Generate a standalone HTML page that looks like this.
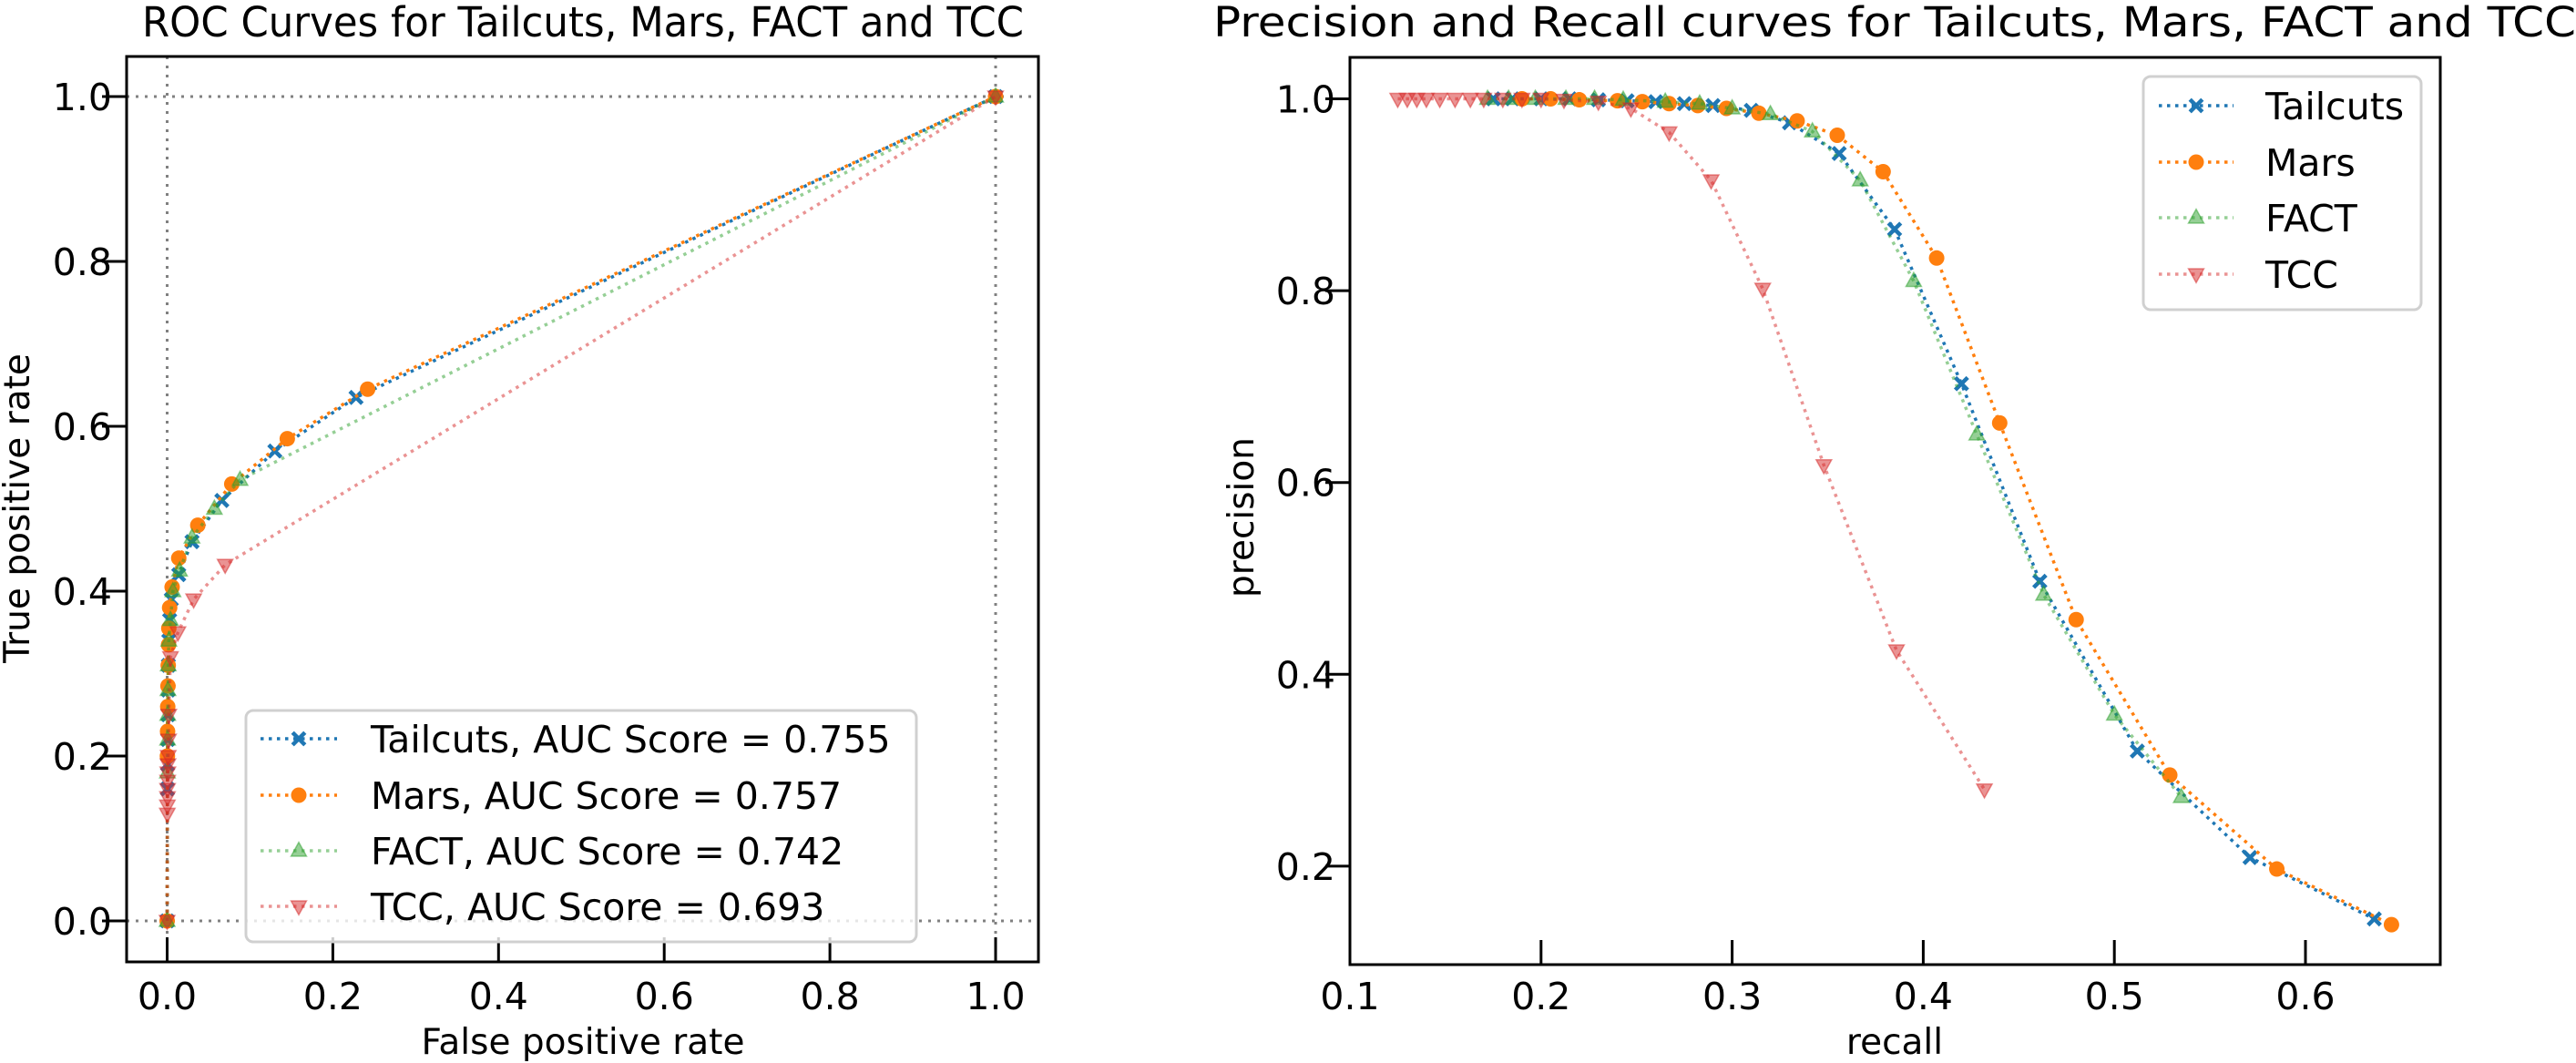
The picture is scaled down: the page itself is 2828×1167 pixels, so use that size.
<!DOCTYPE html>
<html><head><meta charset="utf-8"><style>
html,body{margin:0;padding:0;background:#fff;}
svg{display:block;font-family:"DejaVu Sans","Liberation Sans",sans-serif;}
</style></head><body>
<svg id="c" width="2828" height="1167" viewBox="0 0 2828 1167"></svg>
<script>
// ROC data
const rocTailFpr=[0,0.0003,0.0005,0.0007,0.001,0.0012,0.0015,0.002,0.003,0.005,0.014,0.03,0.066,0.13,0.228,1];
const rocTailTpr=[0,0.16,0.19,0.22,0.25,0.28,0.31,0.34,0.365,0.39,0.42,0.46,0.51,0.57,0.635,1];
const rocMarsFpr=[0,0.0003,0.0005,0.0007,0.001,0.0013,0.0017,0.002,0.003,0.006,0.014,0.037,0.078,0.145,0.242,1];
const rocMarsTpr=[0,0.2,0.23,0.26,0.285,0.31,0.335,0.355,0.38,0.405,0.44,0.48,0.53,0.585,0.645,1];
const rocFactFpr=[0,0.0003,0.0005,0.0007,0.001,0.0013,0.002,0.004,0.007,0.015,0.03,0.057,0.088,1];
const rocFactTpr=[0,0.18,0.22,0.25,0.28,0.31,0.34,0.365,0.40,0.425,0.465,0.50,0.535,1];
const rocTccFpr=[0,0.0002,0.0003,0.0004,0.0005,0.0006,0.0008,0.001,0.0013,0.0017,0.002,0.004,0.013,0.032,0.07,1];
const rocTccTpr=[0,0.13,0.14,0.15,0.16,0.17,0.18,0.19,0.2,0.22,0.25,0.32,0.35,0.39,0.432,1];
const rocTicks=[0,0.2,0.4,0.6,0.8,1.0];
const rocTickLabels=["0.0","0.2","0.4","0.6","0.8","1.0"];
const rocLegend=["Tailcuts, AUC Score = 0.755","Mars, AUC Score = 0.757","FACT, AUC Score = 0.742","TCC, AUC Score = 0.693"];
// PR data
const prTailRec=[0.175,0.185,0.2,0.215,0.23,0.245,0.26,0.275,0.29,0.31,0.33,0.356,0.385,0.42,0.461,0.512,0.571,0.636];
const prTailPrec=[1,1,1,1,0.999,0.998,0.997,0.995,0.993,0.988,0.975,0.943,0.864,0.703,0.497,0.32,0.209,0.145];
const prMarsRec=[0.19,0.205,0.22,0.24,0.253,0.267,0.282,0.297,0.314,0.334,0.355,0.379,0.407,0.44,0.48,0.529,0.585,0.645];
const prMarsPrec=[1,1,0.999,0.998,0.997,0.995,0.993,0.99,0.985,0.977,0.962,0.924,0.834,0.662,0.457,0.295,0.197,0.139];
const prFactRec=[0.172,0.183,0.197,0.213,0.228,0.243,0.265,0.283,0.3,0.32,0.342,0.367,0.395,0.428,0.463,0.5,0.535];
const prFactPrec=[1,1,1,1,1,0.999,0.997,0.995,0.99,0.984,0.966,0.915,0.81,0.65,0.483,0.358,0.272];
const prTccRec=[0.125,0.13,0.135,0.14,0.147,0.155,0.163,0.17,0.18,0.19,0.2,0.212,0.23,0.247,0.267,0.289,0.316,0.348,0.386,0.432];
const prTccPrec=[1,1,1,1,1,1,1,1,1,1,1,0.999,0.997,0.99,0.965,0.915,0.802,0.618,0.425,0.28];
const prXTicks=[0.1,0.2,0.3,0.4,0.5,0.6];
const prXLabels=["0.1","0.2","0.3","0.4","0.5","0.6"];
const prYTicks=[0.2,0.4,0.6,0.8,1.0];
const prYLabels=["0.2","0.4","0.6","0.8","1.0"];
const prLegend=["Tailcuts","Mars","FACT","TCC"];

const NS="http://www.w3.org/2000/svg";
const svg=document.getElementById('c');
function el(tag,attrs,parent,text){const e=document.createElementNS(NS,tag);for(const k in attrs)e.setAttribute(k,attrs[k]);if(text!==undefined)e.textContent=text;(parent||svg).appendChild(e);return e;}
const colors=["#1f77b4","#ff7f0e","#2ca02c","#d62728"];
const alphas=[1,1,0.5,0.5];
const kinds=["x","o","^","v"];
const TF=41;
function marker(g,kind,x,y,c,a){
  const r=8.5;let m;
  if(kind==="x"){m=el('path',{d:`M${x-r*0.8},${y-r*0.8}L${x+r*0.8},${y+r*0.8}M${x-r*0.8},${y+r*0.8}L${x+r*0.8},${y-r*0.8}`,stroke:c,'stroke-width':4.5,'stroke-opacity':a},g);}
  else if(kind==="o"){m=el('circle',{cx:x,cy:y,r:r,fill:c,'fill-opacity':a},g);}
  else if(kind==="^"){m=el('path',{d:`M${x},${y-r*1.1}L${x+r},${y+r*0.7}L${x-r},${y+r*0.7}Z`,fill:c,'fill-opacity':a,stroke:c,'stroke-opacity':a,'stroke-width':1.5},g);}
  else {m=el('path',{d:`M${x},${y+r*1.1}L${x+r},${y-r*0.7}L${x-r},${y-r*0.7}Z`,fill:c,'fill-opacity':a,stroke:c,'stroke-opacity':a,'stroke-width':1.5},g);}
  
  
}
function series(g,xs,ys,X,Y,i,name){
  const sg=el('g',{},g);
  
  
  const pts=xs.map((v,k)=>X(v)+','+Y(ys[k])).join(' ');
  const ln=el('polyline',{points:pts,fill:'none',stroke:colors[i],'stroke-opacity':alphas[i],'stroke-width':3.5,'stroke-dasharray':'3.5,5.5'},sg);
  
  
  xs.forEach((v,k)=>marker(sg,kinds[i],X(v),Y(ys[k]),colors[i],alphas[i]));
}

// ---------- ROC ----------
(function(){
  const L=139,R=1140,T=62,B=1056;
  const X=v=>183.5+v*909.5, Y=v=>1011-v*905;
  const g=el('g',{});  
  const t=el('text',{x:640,y:40,'text-anchor':'middle','font-size':45,textLength:968,lengthAdjust:'spacingAndGlyphs'},g,'ROC Curves for Tailcuts, Mars, FACT and TCC');
   
  [[X(0),T,X(0),B],[X(1),T,X(1),B],[L,Y(0),R,Y(0)],[L,Y(1),R,Y(1)]].forEach(p=>{
    const l=el('line',{x1:p[0],y1:p[1],x2:p[2],y2:p[3],stroke:'#808080','stroke-width':3,'stroke-dasharray':'3,7'},g);
     });
  series(g,rocTailFpr,rocTailTpr,X,Y,0,'tailcuts-roc');
  series(g,rocMarsFpr,rocMarsTpr,X,Y,1,'mars-roc');
  series(g,rocFactFpr,rocFactTpr,X,Y,2,'fact-roc');
  series(g,rocTccFpr,rocTccTpr,X,Y,3,'tcc-roc');
  const fr=el('rect',{x:L,y:T,width:R-L,height:B-T,fill:'none',stroke:'#000','stroke-width':3},g);
   
  rocTicks.forEach((v,k)=>{
    const a=el('line',{x1:X(v),y1:B,x2:X(v),y2:B-27,stroke:'#000','stroke-width':3},g);
     
    const tl=el('text',{x:X(v),y:1108,'text-anchor':'middle','font-size':TF},g,rocTickLabels[k]);
     
    const b=el('line',{x1:L,y1:Y(v),x2:L-27,y2:Y(v),stroke:'#000','stroke-width':3},g);
     
    const yl=el('text',{x:123,y:Y(v)+15,'text-anchor':'end','font-size':TF},g,rocTickLabels[k]);
     
  });
  const xl=el('text',{x:640,y:1157,'text-anchor':'middle','font-size':39},g,'False positive rate');
   
  const yl=el('text',{x:0,y:0,'text-anchor':'middle','font-size':39,transform:'translate(32,558) rotate(-90)'},g,'True positive rate');
   
  const lg=el('g',{},g);  
  el('rect',{x:270,y:780,width:736,height:254,rx:8,fill:'#fff','fill-opacity':0.8,stroke:'#d0d0d0','stroke-width':3},lg);
  const ys=[811,873,934,995];
  rocLegend.forEach((s,i)=>{
    const e=el('g',{},lg);  
    el('line',{x1:286,y1:ys[i],x2:370,y2:ys[i],stroke:colors[i],'stroke-opacity':alphas[i],'stroke-width':3.5,'stroke-dasharray':'3.5,5.5'},e);
    marker(e,kinds[i],328,ys[i],colors[i],alphas[i]);
    el('text',{x:407,y:ys[i]+15,'font-size':TF},e,s);
  });
})();

// ---------- PR ----------
(function(){
  const L=1482,R=2679,T=63,B=1059;
  const X=v=>1482+(v-0.1)*2098, Y=v=>108.5+(1-v)*1053;
  const g=el('g',{});  
  const t=el('text',{x:2080,y:40,'text-anchor':'middle','font-size':45,textLength:1496,lengthAdjust:'spacingAndGlyphs'},g,'Precision and Recall curves for Tailcuts, Mars, FACT and TCC');
   
  series(g,prTailRec,prTailPrec,X,Y,0,'tailcuts-pr');
  series(g,prMarsRec,prMarsPrec,X,Y,1,'mars-pr');
  series(g,prFactRec,prFactPrec,X,Y,2,'fact-pr');
  series(g,prTccRec,prTccPrec,X,Y,3,'tcc-pr');
  const fr=el('rect',{x:L,y:T,width:R-L,height:B-T,fill:'none',stroke:'#000','stroke-width':3},g);
   
  prXTicks.forEach((v,k)=>{
    const a=el('line',{x1:X(v),y1:B,x2:X(v),y2:B-27,stroke:'#000','stroke-width':3},g);
     
    const tl=el('text',{x:X(v),y:1108,'text-anchor':'middle','font-size':TF},g,prXLabels[k]);
     
  });
  prYTicks.forEach((v,k)=>{
    const b=el('line',{x1:L,y1:Y(v),x2:L-27,y2:Y(v),stroke:'#000','stroke-width':3},g);
     
    const yl=el('text',{x:1466,y:Y(v)+15,'text-anchor':'end','font-size':TF},g,prYLabels[k]);
     
  });
  const xl=el('text',{x:2080,y:1157,'text-anchor':'middle','font-size':39},g,'recall');
   
  const yl=el('text',{x:0,y:0,'text-anchor':'middle','font-size':39,transform:'translate(1376,568) rotate(-90)'},g,'precision');
   
  const lg=el('g',{},g);  
  el('rect',{x:2353,y:84,width:305,height:256,rx:8,fill:'#fff','fill-opacity':0.8,stroke:'#d0d0d0','stroke-width':3},lg);
  const ys=[116,178,239,301];
  prLegend.forEach((s,i)=>{
    const e=el('g',{},lg);  
    el('line',{x1:2370,y1:ys[i],x2:2452,y2:ys[i],stroke:colors[i],'stroke-opacity':alphas[i],'stroke-width':3.5,'stroke-dasharray':'3.5,5.5'},e);
    marker(e,kinds[i],2411,ys[i],colors[i],alphas[i]);
    el('text',{x:2487,y:ys[i]+15,'font-size':TF},e,s);
  });
})();
</script>
</body></html>
